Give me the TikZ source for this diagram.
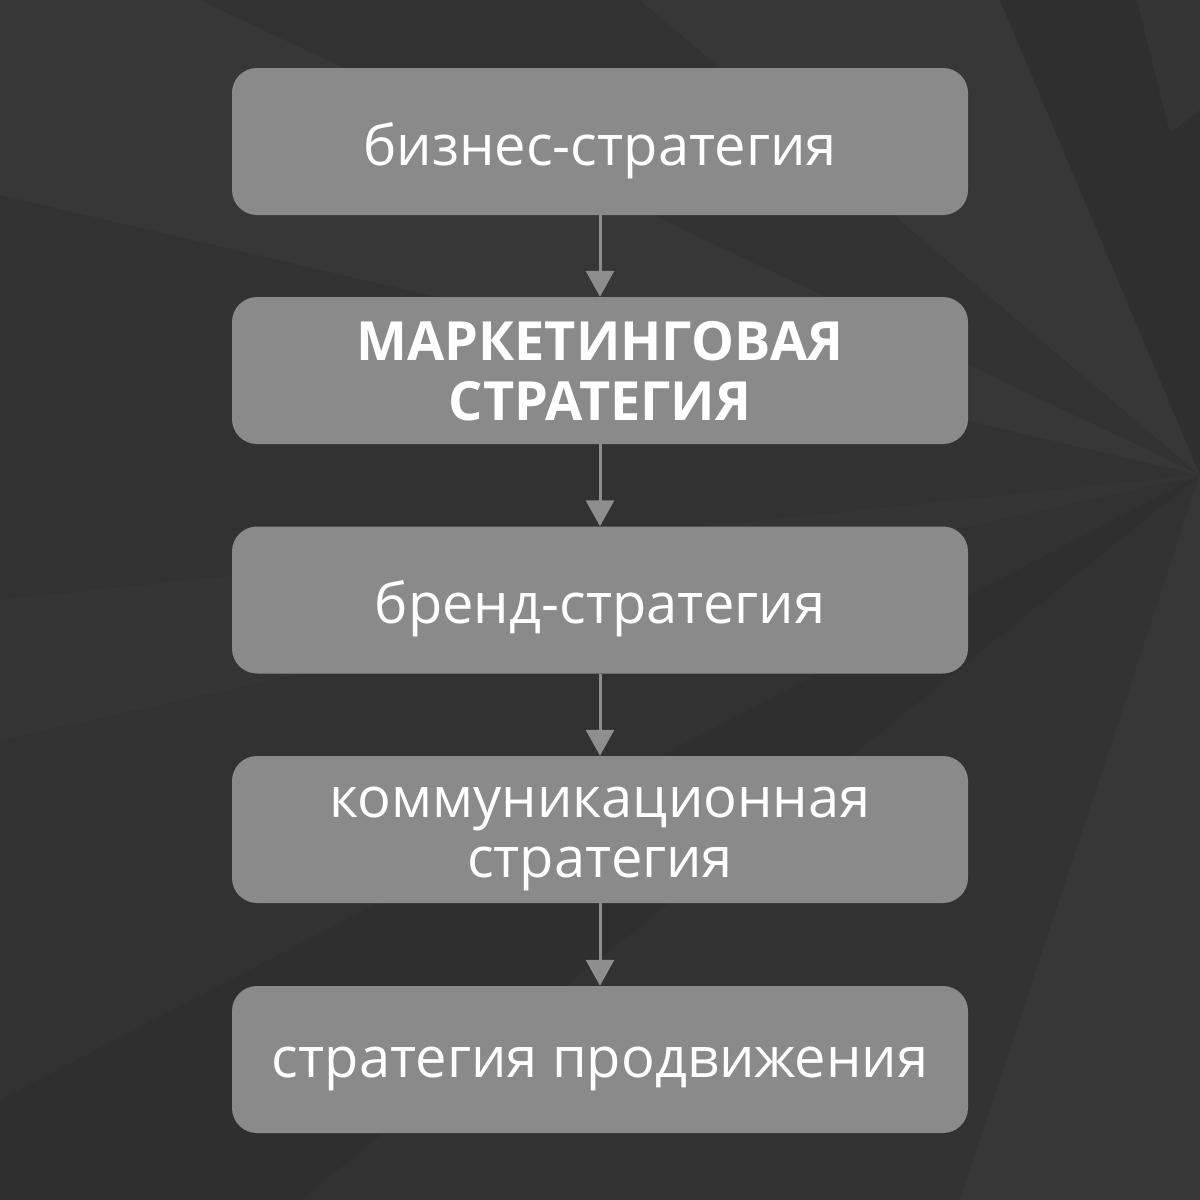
\documentclass[tikz,border=0pt]{standalone}
\usepackage{fontspec}
\setmainfont{Open Sans}
\usetikzlibrary{arrows.meta}
\definecolor{bgbase}{HTML}{323232}
\definecolor{facetA}{HTML}{373737}
\definecolor{facetB}{HTML}{2F2F2F}
\definecolor{boxfill}{HTML}{8A8A8A}
\definecolor{arrowcol}{HTML}{8E8E8E}
\begin{document}
\begin{tikzpicture}[x=1pt,y=-1pt,
  stepbox/.style={rounded corners=25pt, fill=boxfill, minimum width=736pt, minimum height=147pt,
    inner sep=0pt},
  steptext/.style={text=white, align=center, inner sep=0pt, font=\fontsize{56}{60}\selectfont},
  boldtext/.style={steptext, font=\fontsize{54}{60}\selectfont\bfseries},
  flowarrow/.style={draw=arrowcol, line width=3pt, -{Triangle[width=28pt,length=26pt]}}
]
\useasboundingbox (0,0) rectangle (1200,1200);
\fill[bgbase] (0,0) rectangle (1200,1200);
% background facets
\coordinate (F) at (1200,475);
\fill[facetA] (F) -- (640,0) -- (1000,0) -- cycle;
\fill[facetB] (F) -- (1000,0) -- (1200,0) -- cycle;
\fill[facetA!70!facetB] (1137,0) -- (1200,0) -- (1200,110) -- (1170,133) -- cycle;
\fill[facetA] (F) -- (0,195) -- (0,0) -- (200,0) -- cycle;
\fill[facetA] (F) -- (960,1200) -- (1200,1200) -- cycle;
\fill[facetB] (F) -- (0,1100) -- (0,1200) -- (300,1200) -- cycle;
\fill[facetA!60!bgbase] (F) -- (0,600) -- (0,740) -- cycle;
% boxes
\node[stepbox, label={[steptext, yshift=-9pt]center:бизнес-стратегия}] (b1) at (600,141.5) {};
\node[stepbox, label={[boldtext, yshift=-1pt]center:{МАРКЕТИНГОВАЯ\\СТРАТЕГИЯ}}] (b2) at (600,370.5) {};
\node[stepbox, label={[steptext, yshift=-9pt]center:бренд-стратегия}] (b3) at (600,600) {};
\node[stepbox, label={[steptext, yshift=-9pt]center:{коммуникационная\\стратегия}}] (b4) at (600,829.5) {};
\node[stepbox, label={[steptext, yshift=-9pt]center:стратегия продвижения}] (b5) at (600,1059.5) {};
% connectors
\draw[flowarrow] (b1.south) -- (b2.north);
\draw[flowarrow] (b2.south) -- (b3.north);
\draw[flowarrow] (b3.south) -- (b4.north);
\draw[flowarrow] (b4.south) -- (b5.north);
\end{tikzpicture}
\end{document}
